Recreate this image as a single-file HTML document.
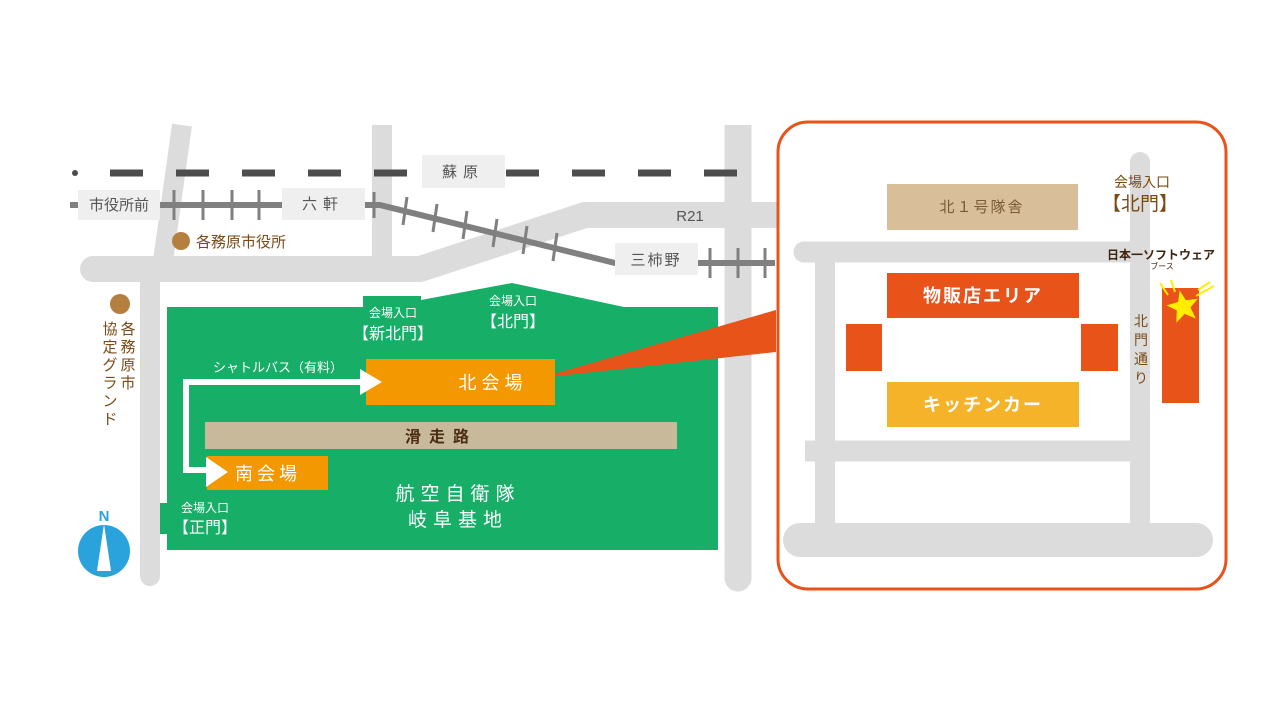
<!DOCTYPE html>
<html><head><meta charset="utf-8"><style>
html,body{margin:0;padding:0;background:#fff;}
svg{display:block;}
text{font-family:"Liberation Sans","Noto Sans CJK JP",sans-serif;}
</style></head><body>
<svg width="1280" height="720" viewBox="0 0 1280 720" xmlns="http://www.w3.org/2000/svg">
<rect width="1280" height="720" fill="#fff"/>
<!-- roads -->
<g stroke="#dcdcdc" fill="none" stroke-linecap="round">
  <path d="M182 125 L162 268" stroke-width="20" stroke-linecap="butt"/>
  <path d="M150 275 L150 576" stroke-width="20"/>
  <path d="M93 269 L420 269 L585 215 L775 215" stroke-width="26" stroke-linejoin="round"/>
  <path d="M382 125 L382 262" stroke-width="20" stroke-linecap="butt"/>
  <path d="M738 125 L738 570" stroke-width="27" stroke-linecap="butt"/>
  <path d="M738 570 L738 578" stroke-width="27"/>
</g>
<!-- dashed rail -->
<line x1="110" y1="173" x2="745" y2="173" stroke="#4d4d4d" stroke-width="7" stroke-dasharray="33 33"/>
<circle cx="75" cy="173" r="3" fill="#4d4d4d"/>
<!-- solid rail -->
<g stroke="#808080" fill="none">
  <path d="M70 205 L380 205 L615 263 L775 263" stroke-width="6"/>
  <g stroke-width="3">
    <line x1="174" y1="190" x2="174" y2="220"/><line x1="203" y1="190" x2="203" y2="220"/>
    <line x1="232" y1="190" x2="232" y2="220"/><line x1="259" y1="190" x2="259" y2="220"/>
    <line x1="374" y1="192" x2="374" y2="218"/>
    <line x1="407" y1="197" x2="403" y2="225"/><line x1="437" y1="204" x2="433" y2="232"/>
    <line x1="467" y1="211" x2="463" y2="239"/><line x1="497" y1="219" x2="493" y2="247"/>
    <line x1="527" y1="226" x2="523" y2="254"/><line x1="557" y1="233" x2="553" y2="261"/>
    <line x1="710" y1="248" x2="710" y2="278"/><line x1="738" y1="248" x2="738" y2="278"/>
    <line x1="765" y1="248" x2="765" y2="278"/>
  </g>
</g>
<!-- station boxes -->
<g fill="#efefef">
  <rect x="78" y="190" width="82" height="30"/>
  <rect x="282" y="188" width="83" height="32"/>
  <rect x="422" y="155" width="83" height="33"/>
  <rect x="615" y="243" width="83" height="32"/>
</g>
<g fill="#555" font-size="15" text-anchor="middle">
  <text x="119" y="210">市役所前</text>
  <text x="323" y="209" letter-spacing="6">六軒</text>
  <text x="463" y="177" letter-spacing="6">蘇原</text>
  <text x="656" y="265" letter-spacing="2">三柿野</text>
  <text x="690" y="221" font-size="15">R21</text>
</g>
<circle cx="181" cy="241" r="9" fill="#b5803f"/>
<text x="196" y="247" font-size="15" fill="#7a4a17">各務原市役所</text>
<circle cx="120" cy="304" r="10" fill="#b5803f"/>
<g fill="#7a4a17" font-size="15" text-anchor="middle">
  <text x="128" y="334">各</text><text x="128" y="352">務</text><text x="128" y="370">原</text><text x="128" y="388">市</text>
  <text x="110" y="334">協</text><text x="110" y="352">定</text><text x="110" y="370">グ</text><text x="110" y="388">ラ</text><text x="110" y="406">ン</text><text x="110" y="424">ド</text>
</g>
<!-- green base -->
<g fill="#17ae68">
  <rect x="167" y="307" width="551" height="243"/>
  <rect x="363" y="296" width="58" height="12"/>
  <polygon points="421,300 512,283 624,307 421,307"/>
  <rect x="160" y="503" width="8" height="31"/>
</g>
<g fill="#fff" text-anchor="middle">
  <text x="393" y="317" font-size="12">会場入口</text>
  <text x="393" y="339" font-size="16">【新北門】</text>
  <text x="513" y="305" font-size="12">会場入口</text>
  <text x="513" y="327" font-size="16">【北門】</text>
  <text x="205" y="512" font-size="12">会場入口</text>
  <text x="205" y="533" font-size="16">【正門】</text>
</g>
<!-- orange callout -->
<polygon points="540,378 776,310 776,352" fill="#e8531a"/>
<rect x="366" y="359" width="189" height="46" fill="#f39800"/>
<text x="493" y="389" font-size="18" fill="#fff" text-anchor="middle" letter-spacing="5">北会場</text>
<rect x="205" y="422" width="472" height="27" fill="#c9b99b"/>
<text x="441" y="442" font-size="16" fill="#4a2e10" text-anchor="middle" letter-spacing="8" font-weight="bold">滑走路</text>
<rect x="207" y="456" width="121" height="34" fill="#f39800"/>
<text x="268" y="480" font-size="18" fill="#fff" text-anchor="middle" letter-spacing="4">南会場</text>
<!-- shuttle -->
<path d="M365 382 L186 382 L186 470 L210 470" stroke="#fff" stroke-width="6" fill="none"/>
<polygon points="360,369 382,382 360,395" fill="#fff"/>
<polygon points="206,457 228,472 206,487" fill="#fff"/>
<text x="278" y="372" font-size="13" fill="#fff" text-anchor="middle">シャトルバス（有料）</text>
<text x="458" y="500" font-size="19" fill="#fff" text-anchor="middle" letter-spacing="6">航空自衛隊</text>
<text x="458" y="526" font-size="19" fill="#fff" text-anchor="middle" letter-spacing="6">岐阜基地</text>
<!-- compass -->
<text x="104" y="521" font-size="15" font-weight="bold" fill="#2aa3dc" text-anchor="middle">N</text>
<ellipse cx="104" cy="551" rx="26" ry="26" fill="#2aa3dc"/>
<polygon points="104,524 97,571 111,571" fill="#fff"/>
<!-- right panel -->
<rect x="778" y="122" width="448" height="467" rx="30" fill="#fff" stroke="#e8531a" stroke-width="3"/>
<g stroke="#dcdcdc" fill="none" stroke-linecap="round">
  <path d="M1140 162 L1140 540" stroke-width="20"/>
  <path d="M804 252 L1140 252" stroke-width="21"/>
  <path d="M825 252 L825 540" stroke-width="20" stroke-linecap="butt"/>
  <path d="M805 451 L1140 451" stroke-width="21" stroke-linecap="butt"/>
  <path d="M800 540 L1196 540" stroke-width="34"/>
</g>
<rect x="887" y="184" width="191" height="46" fill="#d8bf9a"/>
<text x="982" y="212" font-size="15" fill="#7a5a35" text-anchor="middle" letter-spacing="2">北１号隊舎</text>
<rect x="887" y="273" width="192" height="45" fill="#e8531a"/>
<text x="983" y="302" font-size="18" font-weight="bold" fill="#fff" text-anchor="middle" letter-spacing="2">物販店エリア</text>
<rect x="846" y="324" width="36" height="47" fill="#e8531a"/>
<rect x="1081" y="324" width="37" height="47" fill="#e8531a"/>
<rect x="887" y="382" width="192" height="45" fill="#f5b32a"/>
<text x="983" y="411" font-size="18" font-weight="bold" fill="#fff" text-anchor="middle" letter-spacing="2">キッチンカー</text>
<rect x="1162" y="288" width="37" height="115" fill="#e8531a"/>
<text x="1142" y="187" font-size="14" fill="#7a4a17" text-anchor="middle">会場入口</text>
<text x="1140" y="210" font-size="19" fill="#7a4a17" text-anchor="middle">【北門】</text>
<text x="1161" y="259" font-size="12" font-weight="bold" fill="#3d2410" text-anchor="middle">日本一ソフトウェア</text>
<text x="1162" y="269" font-size="8" fill="#3d2410" text-anchor="middle">ブース</text>
<g fill="#7a4a17" font-size="14" text-anchor="middle">
  <text x="1141" y="326">北</text><text x="1141" y="345">門</text><text x="1141" y="364">通</text><text x="1141" y="383">り</text>
</g>
<g stroke="#ffee00" stroke-width="2">
  <line x1="1160" y1="283" x2="1168" y2="295"/><line x1="1171" y1="280" x2="1175" y2="292"/>
  <line x1="1196" y1="296" x2="1214" y2="286"/><line x1="1198" y1="290" x2="1210" y2="282"/>
</g>
<polygon points="1183,290 1187,301 1199,302 1190,309 1193,321 1183,314 1173,321 1176,309 1167,302 1179,301" fill="#ffee00" transform="rotate(-12 1183 306)"/>
</svg>
</body></html>
